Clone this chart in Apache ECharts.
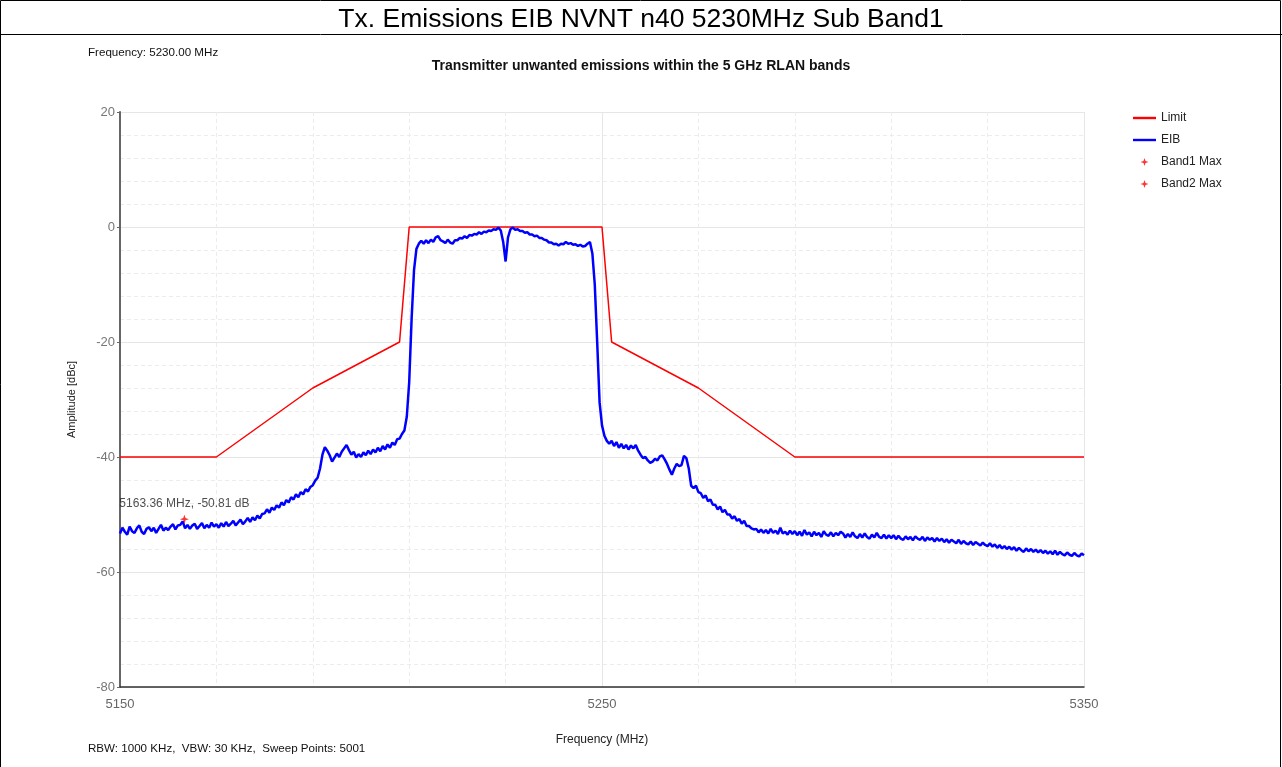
<!DOCTYPE html>
<html>
<head>
<meta charset="utf-8">
<title>Tx. Emissions EIB NVNT n40 5230MHz Sub Band1</title>
<script src="https://cdn.jsdelivr.net/npm/echarts@6/dist/echarts.min.js"></script>
<style>
  html, body { margin: 0; padding: 0; background: #fff; }
  #chart { width: 1282px; height: 767px; }
</style>
</head>
<body>
<div id="chart"></div>
<script>
// Sweep settings: 0.5 MHz spacing from 5150 MHz
const sweepStart = 5150;
const sweepStep = 0.5;

// Measured EIB level (dBc), one value per sweep step, 5150 .. 5350 MHz
const eibLevel = [
  // 5150 - 5159.5
  -53.3, -52.3, -53.0, -53.5, -52.1, -52.9, -53.2, -52.4, -51.9, -53.0, -53.4, -52.5, -52.2, -52.9, -52.3, -53.2, -52.5, -51.8, -52.8, -52.3,
  // 5160 - 5169.5
  -52.7, -52.1, -51.7, -52.6, -51.9, -51.8, -51.2, -52.4, -51.8, -52.5, -51.9, -51.6, -52.5, -52.0, -51.5, -52.4, -51.8, -52.3, -51.4, -52.1,
  // 5170 - 5179.5
  -51.7, -52.3, -51.5, -52.1, -51.3, -52.0, -51.6, -51.1, -51.9, -51.4, -50.9, -51.7, -51.2, -50.6, -51.3, -50.5, -51.0, -50.2, -50.7, -49.9,
  // 5180 - 5189.5
  -49.8, -49.1, -49.7, -48.8, -49.2, -48.4, -48.8, -47.9, -48.4, -47.5, -47.9, -47.0, -47.4, -46.5, -47.0, -46.1, -46.5, -45.6, -46.0, -45.2,
  // 5190 - 5199.5
  -44.9, -44.1, -43.6, -42.0, -39.6, -38.3, -38.9, -39.7, -40.8, -40.1, -39.4, -40.0, -39.1, -38.5, -37.9, -38.8, -39.6, -39.1, -40.1, -39.5,
  // 5200 - 5209.5
  -40.0, -39.2, -39.7, -38.9, -39.5, -38.7, -39.2, -38.4, -39.0, -38.1, -38.7, -37.8, -38.4, -37.5, -37.9, -36.9, -36.8, -36.0, -35.4, -33.0,
  // 5210 - 5219.5
  -27.0, -16.0, -7.5, -3.8, -2.9, -2.4, -2.9, -2.3, -2.8, -2.2, -2.6, -1.8, -1.6, -2.3, -2.5, -2.8, -2.2, -2.7, -2.9, -2.3,
  // 5220 - 5229.5
  -2.3, -1.9, -2.0, -1.6, -1.9, -1.4, -1.5, -1.2, -1.3, -0.9, -1.2, -0.8, -0.9, -0.6, -0.7, -0.4, -0.5, -0.1, -0.6, -2.6,
  // 5230 - 5239.5
  -6.0, -1.8, -0.4, -0.1, -0.5, -0.4, -0.7, -0.7, -1.0, -0.9, -1.3, -1.3, -1.6, -1.5, -1.9, -1.9, -2.2, -2.3, -2.7, -2.7,
  // 5240 - 5249.5
  -3.0, -2.9, -3.2, -2.9, -3.0, -2.6, -2.9, -2.8, -3.1, -3.0, -3.3, -3.1, -3.4, -3.3, -2.9, -2.6, -4.6, -10.0, -20.0, -30.5,
  // 5250 - 5259.5
  -34.5, -36.3, -37.2, -37.7, -37.2, -38.1, -37.4, -38.4, -37.7, -38.5, -37.9, -38.7, -38.0, -38.5, -37.9, -38.9, -39.6, -40.2, -40.0, -40.6,
  // 5260 - 5269.5
  -41.0, -40.8, -40.3, -40.6, -39.9, -39.7, -40.4, -41.2, -42.2, -43.1, -42.0, -41.2, -41.6, -41.4, -39.8, -40.2, -42.0, -45.0, -45.4, -45.0,
  // 5270 - 5279.5
  -46.1, -46.3, -47.1, -46.7, -47.7, -47.4, -48.3, -48.3, -49.1, -48.6, -49.6, -49.2, -50.0, -50.0, -50.7, -50.3, -51.1, -50.8, -51.6, -51.1,
  // 5280 - 5289.5
  -52.0, -52.0, -52.4, -52.6, -52.5, -53.1, -52.6, -53.2, -52.7, -53.3, -52.5, -53.2, -52.8, -53.4, -52.3, -53.3, -53.0, -53.5, -52.8, -53.4,
  // 5290 - 5299.5
  -52.9, -53.6, -53.0, -53.7, -52.7, -53.5, -53.1, -53.8, -53.0, -53.6, -53.2, -53.9, -52.9, -53.5, -53.7, -53.1, -53.8, -53.2, -53.6, -53.0,
  // 5300 - 5309.5
  -53.3, -54.0, -53.4, -53.9, -53.1, -53.8, -54.1, -53.4, -54.0, -53.3, -53.9, -54.2, -53.5, -54.0, -53.2, -53.9, -54.1, -53.5, -54.2, -53.6,
  // 5310 - 5319.5
  -54.1, -53.6, -54.3, -53.7, -54.2, -54.4, -53.8, -54.3, -53.9, -54.5, -53.8, -54.2, -54.4, -53.9, -54.6, -54.0, -54.4, -54.1, -54.7, -54.1,
  // 5320 - 5329.5
  -54.6, -54.2, -54.8, -54.3, -54.9, -54.4, -54.7, -55.0, -54.4, -55.1, -54.6, -55.0, -55.2, -54.7, -55.3, -54.8, -55.1, -55.4, -54.9, -55.3,
  // 5330 - 5339.5
  -55.5, -55.0, -55.6, -55.2, -55.8, -55.3, -55.9, -55.5, -56.0, -55.6, -56.1, -55.7, -56.3, -55.8, -56.2, -56.5, -55.9, -56.4, -56.0, -56.5,
  // 5340 - 5349.5
  -56.1, -56.6, -56.2, -56.7, -56.3, -56.8, -56.4, -56.9, -56.3, -57.0, -56.5, -56.9, -57.1, -56.6, -57.0, -57.2, -56.7, -57.1, -57.3, -56.8,
  // 5350
  -57.1
];

// Emission mask (frequency MHz, limit dBc)
const limitFreq = [5150, 5170, 5190, 5208, 5210, 5250, 5252, 5270, 5290, 5350];
const limitLevel = [-40, -40, -28, -20, 0, 0, -20, -28, -40, -40];

// Band maxima found by the marker search
const band1Max = [[5163.36, -50.81]];
const band2Max = [];

// Axis ticks
const freqTicks = [5150, 5250, 5350];
const ampTicks = [20, 0, -20, -40, -60, -80];

const FONT = '"Liberation Sans", Arial, sans-serif';
const STAR = 'path://M0,-5 L1.3,-1.3 L5,0 L1.3,1.3 L0,5 L-1.3,1.3 L-5,0 L-1.3,-1.3 Z';
const STAR_ICON = 'path://M0,0 M23,12 M11.5,2 L12.5,5 L15.5,6 L12.5,7 L11.5,10 L10.5,7 L7.5,6 L10.5,5 Z';
const LINE_ICON = 'path://M0,0 M23,12 M0,4.8 L23,4.8 L23,7.2 L0,7.2 Z';

const eibData = eibLevel.map((v, i) => [sweepStart + i * sweepStep, v]);
const limitData = limitFreq.map((f, i) => [f, limitLevel[i]]);

const chart = echarts.init(document.getElementById('chart'), null, { renderer: 'canvas' });

chart.setOption({
  animation: false,
  backgroundColor: '#ffffff',
  textStyle: { fontFamily: FONT },
  title: [
    {
      text: 'Tx. Emissions EIB NVNT n40 5230MHz Sub Band1',
      left: 'center', top: 6, padding: 0,
      textStyle: { fontFamily: FONT, fontSize: 26.5, fontWeight: 'normal', color: '#000' }
    },
    {
      text: 'Transmitter unwanted emissions within the 5 GHz RLAN bands',
      left: 'center', top: 59, padding: 0,
      textStyle: { fontFamily: FONT, fontSize: 14, fontWeight: 'bold', color: '#111' }
    },
    {
      text: 'Frequency: 5230.00 MHz',
      left: 88, top: 47, padding: 0,
      textStyle: { fontFamily: FONT, fontSize: 11.6, fontWeight: 'normal', color: '#111' }
    },
    {
      text: 'RBW: 1000 KHz,  VBW: 30 KHz,  Sweep Points: 5001',
      left: 88, top: 743, padding: 0,
      textStyle: { fontFamily: FONT, fontSize: 11.6, fontWeight: 'normal', color: '#111' }
    }
  ],
  graphic: [
    {
      type: 'rect', silent: true, z: 100,
      shape: { x: 0.5, y: 0.5, width: 1280, height: 770 },
      style: { fill: 'none', stroke: '#000', lineWidth: 1 }
    },
    {
      type: 'line', silent: true, z: 100,
      shape: { x1: 0, y1: 34.5, x2: 1282, y2: 34.5 },
      style: { stroke: '#000', lineWidth: 1 }
    }
  ],
  legend: {
    orient: 'vertical',
    left: 1133, top: 112, padding: 0,
    itemWidth: 23, itemHeight: 12, itemGap: 10,
    textStyle: { fontFamily: FONT, fontSize: 12, color: '#222' },
    data: [
      { name: 'Limit', icon: LINE_ICON },
      { name: 'EIB', icon: LINE_ICON },
      { name: 'Band1 Max', icon: STAR_ICON },
      { name: 'Band2 Max', icon: STAR_ICON }
    ]
  },
  grid: { left: 120, right: 198, top: 112, bottom: 80, containLabel: false },
  xAxis: {
    type: 'value',
    min: freqTicks[0], max: freqTicks[freqTicks.length - 1], interval: 100,
    name: 'Frequency (MHz)', nameLocation: 'middle', nameGap: 47,
    nameTextStyle: { fontFamily: FONT, fontSize: 12, color: '#222' },
    axisLine: { show: true, onZero: false, lineStyle: { color: '#333', width: 1.5 } },
    axisTick: { show: false },
    axisLabel: { color: '#666', fontSize: 13, margin: 11, fontFamily: FONT,
      formatter: v => freqTicks.includes(v) ? String(v) : '' },
    splitLine: { show: true, lineStyle: { color: '#e6e6e6', width: 1 } },
    minorTick: { show: false, splitNumber: 5 },
    minorSplitLine: { show: true, lineStyle: { color: '#ececec', type: [4, 3], width: 1 } }
  },
  yAxis: {
    type: 'value',
    min: ampTicks[ampTicks.length - 1], max: ampTicks[0], interval: 20,
    name: 'Amplitude [dBc]', nameLocation: 'middle', nameGap: 43, nameRotate: 90,
    nameTextStyle: { fontFamily: FONT, fontSize: 11, color: '#222' },
    axisLine: { show: true, onZero: false, lineStyle: { color: '#666', width: 2 } },
    axisTick: { show: true, length: 3, lineStyle: { color: '#666' } },
    axisLabel: { color: '#777', fontSize: 13, margin: 5, fontFamily: FONT },
    splitLine: { show: true, lineStyle: { color: '#e6e6e6', width: 1 } },
    minorTick: { show: false, splitNumber: 5 },
    minorSplitLine: { show: true, lineStyle: { color: '#ececec', type: [4, 3], width: 1 } }
  },
  series: [
    {
      name: 'Limit', type: 'line', data: limitData,
      symbol: 'none', z: 3,
      lineStyle: { color: '#ff0000', width: 1.5 },
      itemStyle: { color: '#ff0000' }
    },
    {
      name: 'EIB', type: 'line', data: eibData,
      symbol: 'none', z: 4,
      lineStyle: { color: '#0000ff', width: 2.5 },
      itemStyle: { color: '#0000ff' }
    },
    {
      name: 'Band1 Max', type: 'scatter', data: band1Max,
      symbol: STAR, symbolSize: 9, z: 6,
      itemStyle: { color: '#ff0000' },
      label: {
        show: true, position: 'top', distance: 5,
        fontFamily: FONT, fontSize: 12, color: '#222',
        formatter: p => p.value[0].toFixed(2) + ' MHz, ' + p.value[1].toFixed(2) + ' dB'
      }
    },
    {
      name: 'Band2 Max', type: 'scatter', data: band2Max,
      symbol: STAR, symbolSize: 9, z: 6,
      itemStyle: { color: '#ff0000' }
    }
  ]
});
</script>
</body>
</html>
